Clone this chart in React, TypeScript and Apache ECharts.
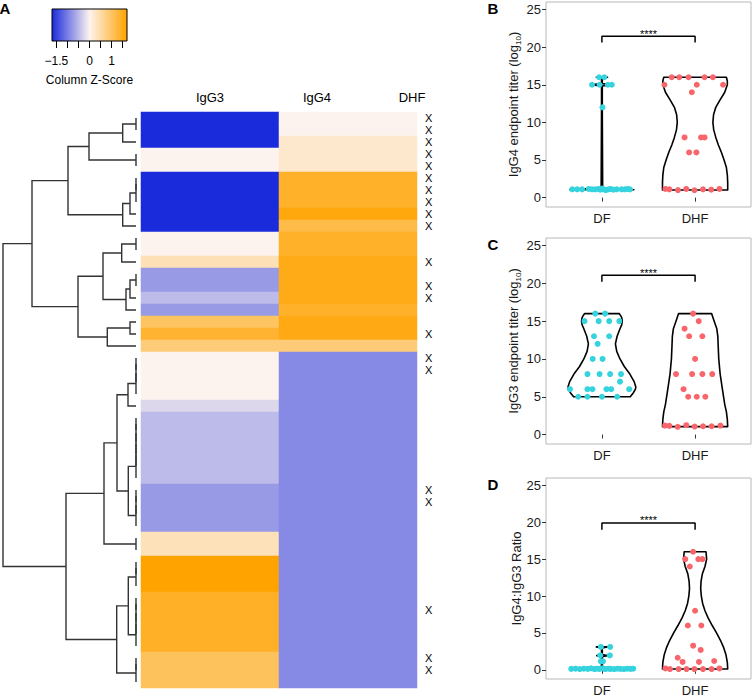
import React, { useEffect, useRef } from 'react';
import * as echarts from 'echarts';

const FONT = '"Liberation Sans", Arial, Helvetica, sans-serif';
const BLUE = '#1a2bdc';
const MID = '#fdf3ee';
const ORANGE = '#ffa300';
const DF_COLOR = '#35d3de';
const DHF_COLOR = '#f8666b';

// ---------- Panel A: heatmap ----------
const heatmapColumns = ['IgG3', 'IgG4'];
const zRange = [-1.7, 1.7];
const keyTicks = [-1.5, -1, -0.5, 0, 0.5, 1, 1.5];
const keyLabels = [-1.5, 0, 1];

// column z-scores, rows top to bottom
const igg3Z = [
  -1.7, -1.7, -1.7, 0, 0, -1.7, -1.7, -1.7, -1.7, -1.7,
  0, 0, 0.4, -0.76, -0.76, -0.48, -0.76, 1.0, 1.36, 0.84,
  0, 0, 0, 0, -0.24, -0.48, -0.48, -0.48, -0.48, -0.48,
  -0.48, -0.76, -0.76, -0.76, -0.76, 0.38, 0.38, 1.7, 1.7, 1.7,
  1.43, 1.43, 1.43, 1.43, 1.43, 1.04, 1.04, 1.04,
];
const igg4Z = [
  0, 0, 0.23, 0.23, 0.23, 1.4, 1.4, 1.4, 1.6, 1.19,
  1.4, 1.4, 1.53, 1.53, 1.53, 1.53, 1.4, 1.55, 1.55, 0.84,
  -0.89, -0.89, -0.89, -0.89, -0.89, -0.89, -0.89, -0.89, -0.89, -0.89,
  -0.89, -0.89, -0.89, -0.89, -0.89, -0.89, -0.89, -0.89, -0.89, -0.89,
  -0.89, -0.89, -0.89, -0.89, -0.89, -0.89, -0.89, -0.89,
];
// rows (0-based) marked as DHF
const dhfRows = [0, 1, 2, 3, 4, 5, 6, 7, 8, 9, 12, 14, 15, 18, 20, 21, 31, 32, 41, 45, 46];

// hclust-style merges: negative = leaf row (-1 is row 0), positive = earlier merge (1-based)
const dendroMerges = [
  [-1, -2], [1, -3], [-4, -5], [2, 3], [-6, -7], [5, -8], [6, -9], [7, -10], [4, 8],
  [-11, -12], [10, -13], [-14, -15], [12, -16], [13, -17], [11, 14], [-18, -19], [16, -20],
  [15, 17], [9, 18], [-21, -22], [20, -23], [21, -24], [22, -25], [-26, -27], [24, -28],
  [25, -29], [26, -30], [27, -31], [-32, -33], [29, -34], [30, -35], [28, 31], [23, 32],
  [-36, -37], [33, 34], [-38, -39], [36, -40], [-41, -42], [38, -43], [39, -44], [40, -45],
  [37, 41], [-46, -47], [43, -48], [42, 44], [35, 45], [19, 46],
];
const dendroHeights = [
  0, 13.3, 0, 47, 0, 0, 6, 13.3, 68,
  0, 14.3, 0, 6, 10, 33, 6, 28.7,
  58, 104, 0, 0, 0, 8, 0, 0,
  0, 0, 0, 0, 0, 0, 7.7, 19,
  0, 32, 0, 0, 0, 0, 0, 0,
  7.7, 0, 0, 19.3, 70, 133,
];

// ---------- Panels B-D ----------
const groups = ['DF', 'DHF'];
const yTicks = [0, 5, 10, 15, 20, 25];

// points: [jitter offset (category units), value]
const bDfPoints = [
  [-0.03, 16], [0.025, 16],
  [-0.106, 15], [-0.025, 15], [0.064, 15], [0.106, 15],
  [0.007, 12],
  [-0.318, 1.1], [-0.265, 1.1], [-0.212, 1.1], [-0.141, 1.15], [-0.106, 1.1], [-0.071, 1.1],
  [-0.035, 1.15], [-0.018, 1.05], [0, 1.2], [0.018, 1.1], [0.042, 1.0], [0.071, 1.1],
  [0.095, 1.15], [0.124, 1.05], [0.159, 1.1], [0.212, 1.1], [0.247, 1.1], [0.276, 1.15], [0.3, 1.1],
];
const bDhfPoints = [
  [-0.251, 16], [-0.17, 16], [-0.071, 16], [0.102, 16], [0.191, 16],
  [-0.329, 15], [0.018, 15], [0.3, 15],
  [-0.035, 14],
  [-0.113, 8], [0.064, 8], [0.102, 8],
  [-0.064, 6], [0.014, 6],
  [-0.318, 1.15], [-0.276, 1.1], [-0.184, 1.0], [-0.095, 1.15], [-0.007, 0.98], [0.085, 1.1],
  [0.173, 1.05], [0.261, 1.15],
];
const cDfPoints = [
  [-0.071, 16], [0.035, 16],
  [-0.187, 15], [-0.035, 15], [0.078, 15], [0.187, 15],
  [-0.085, 13], [0.078, 13],
  [-0.046, 12],
  [-0.099, 10], [0.007, 10],
  [-0.155, 8], [-0.025, 8], [0.088, 8], [0.205, 8],
  [0.194, 7],
  [-0.343, 6], [-0.155, 6], [-0.102, 6], [0.049, 6], [0.099, 6], [0.293, 6],
  [-0.254, 5], [-0.155, 5], [0, 5], [0.163, 5],
];
const cDhfPoints = [
  [-0.021, 16], [0.039, 15], [-0.113, 14], [-0.064, 13], [0.078, 13], [0, 10],
  [-0.205, 8], [-0.032, 8], [0.078, 8], [0.184, 8],
  [-0.124, 6],
  [-0.074, 5], [0.018, 5], [0.11, 5],
  [-0.322, 1.19], [-0.276, 1.15], [-0.187, 1.02], [-0.095, 1.24], [-0.004, 1.06], [0.085, 1.1],
  [0.177, 1.1], [0.272, 1.19],
];
const dDfPoints = [
  [-0.011, 3.1], [0.088, 3.1], [-0.018, 1.94], [0.085, 1.94], [-0.011, 1.15], [0.011, 1.15],
  [-0.329, 0.12], [-0.283, 0.15], [-0.237, 0.1], [-0.194, 0.15], [-0.152, 0.12], [-0.117, 0.2],
  [-0.081, 0.1], [-0.053, 0.15], [-0.025, 0.12], [0.007, 0.2], [0.035, 0.1], [0.071, 0.15],
  [0.095, 0.12], [0.131, 0.1], [0.166, 0.15], [0.201, 0.12], [0.237, 0.1], [0.272, 0.15],
  [0.307, 0.12], [0.336, 0.15],
];
const dDhfPoints = [
  [-0.021, 16], [-0.106, 15], [0.035, 15], [0.078, 15], [-0.057, 14], [0, 8],
  [-0.078, 6], [0.067, 6], [-0.021, 3.27], [0.06, 2.69], [-0.187, 1.63],
  [-0.134, 1.06], [0.042, 1.06], [0.205, 1.19],
  [-0.318, 0.18], [-0.269, 0.1], [-0.177, 0.1], [-0.092, 0.1], [-0.007, 0.1], [0.085, 0.1],
  [0.177, 0.1], [0.261, 0.18],
];

// violin outlines: [value, half width (category units)]
const bDfViolin = [
  [1.05, 0.343], [1.3, 0.008], [11.85, 0.004], [12, 0.015], [12.15, 0.004], [14.85, 0.004],
  [15, 0.12], [15.15, 0.004], [15.85, 0.004], [16, 0.06],
];
const bDhfViolin = [
  [1.0, 0.35], [2, 0.35], [3, 0.346], [4, 0.336], [5, 0.311], [6, 0.283], [7, 0.25], [8, 0.222],
  [9, 0.2], [10, 0.191], [11, 0.198], [12, 0.222], [13, 0.268], [14, 0.318], [15, 0.346],
  [15.5, 0.346], [16, 0.336],
];
const cDfViolin = [
  [5, 0.304], [5.5, 0.336], [6, 0.36], [6.3, 0.364], [7, 0.346], [8, 0.3], [9, 0.24], [10, 0.194],
  [11, 0.159], [12, 0.145], [13, 0.163], [14, 0.194], [14.5, 0.212], [15, 0.219], [15.5, 0.212],
  [16, 0.187],
];
const cDhfViolin = [
  [1.05, 0.35], [2, 0.346], [3, 0.336], [4, 0.318], [6, 0.293], [8, 0.269], [10, 0.254],
  [12, 0.247], [13, 0.244], [14, 0.233], [15, 0.205], [16, 0.177],
];
const dDfViolin = [
  [0.1, 0.336], [0.35, 0.006], [1.0, 0.004], [1.15, 0.02], [1.3, 0.004], [1.78, 0.004],
  [1.92, 0.055], [2.06, 0.004], [2.96, 0.004], [3.1, 0.06],
];
const dDhfViolin = [
  [0.1, 0.35], [1, 0.346], [2, 0.332], [3, 0.307], [4, 0.272], [5, 0.23], [6, 0.184], [7, 0.141],
  [8, 0.106], [9, 0.081], [10, 0.067], [11, 0.06], [12, 0.064], [13, 0.078], [14, 0.106],
  [15, 0.124], [16, 0.117],
];

// significance brackets: [low, high]
const bBracket = [20.6, 21.45];
const cBracket = [20.2, 21.07];
const dBracket = [19.0, 19.9];
const sigLabel = '****';

function dendroSegments() {
  const pos: number[] = [];
  const ht: number[] = [];
  const segs: number[][] = [];
  const node = (c: number) => (c < 0 ? { y: -c - 1, h: 0 } : { y: pos[c - 1], h: ht[c - 1] });
  dendroMerges.forEach(([a, b], i) => {
    const A = node(a);
    const B = node(b);
    const h = dendroHeights[i];
    segs.push([A.h, A.y, h, B.y, B.h]);
    pos[i] = (A.y + B.y) / 2;
    ht[i] = h;
  });
  return segs;
}

const minus = (v: number) => (v < 0 ? '\u2212' + Math.abs(v) : String(v));

function buildOption() {
  const rowIds = igg3Z.map((_, i) => 'r' + (i + 1));
  const heatData: number[][] = [];
  igg3Z.forEach((z, r) => heatData.push([0, r, z]));
  igg4Z.forEach((z, r) => heatData.push([1, r, z]));

  const grids: any[] = [
    { left: 52, top: 9, width: 75, height: 32 },
    { left: 141, top: 112, width: 276, height: 576 },
    { left: 3, top: 112, width: 133, height: 576 },
  ];
  const xAxes: any[] = [
    {
      gridIndex: 0, type: 'value', min: zRange[0], max: zRange[1], position: 'bottom',
      axisLine: { show: false }, splitLine: { show: false },
      axisTick: { show: true, customValues: keyTicks, length: 7, lineStyle: { color: '#000', width: 1 } },
      axisLabel: { customValues: keyLabels, formatter: (v: number) => minus(v), fontSize: 12, color: '#000', margin: 14, fontFamily: FONT },
      name: 'Column Z-Score', nameLocation: 'middle', nameGap: 33,
      nameTextStyle: { fontSize: 12, color: '#000', fontFamily: FONT },
    },
    {
      gridIndex: 1, type: 'category', data: heatmapColumns, position: 'top',
      axisLine: { show: false }, axisTick: { show: false },
      axisLabel: {
        fontSize: 13, color: '#000', margin: 8, fontFamily: FONT,
        formatter: (v: string) => (v === 'IgG4' ? '{shift|' + v + '}' : v),
        rich: { shift: { fontSize: 13, color: '#000', fontFamily: FONT, padding: [0, 62, 0, 0] } },
      },
    },
    { gridIndex: 2, type: 'value', min: 0, max: 133, inverse: true, show: false },
  ];
  const yAxes: any[] = [
    { gridIndex: 0, type: 'value', show: false },
    {
      gridIndex: 1, type: 'category', data: rowIds, inverse: true, position: 'right',
      axisLine: { show: false }, axisTick: { show: false },
      axisLabel: {
        interval: 0, margin: 8, fontSize: 11, color: '#000', fontFamily: FONT,
        formatter: (_v: string, i: number) => (dhfRows.includes(i) ? 'X' : ''),
      },
      name: 'DHF', nameLocation: 'start', nameGap: 8,
      nameTextStyle: { fontSize: 13, color: '#000', fontFamily: FONT, padding: [0, 10, 0, 0] },
    },
    { gridIndex: 2, type: 'value', min: -0.5, max: 47.5, inverse: true, show: false },
  ];

  const series: any[] = [
    {
      type: 'heatmap', xAxisIndex: 1, yAxisIndex: 1, data: heatData,
      itemStyle: { borderWidth: 0 }, emphasis: { disabled: true },
    },
    {
      type: 'custom', xAxisIndex: 2, yAxisIndex: 2, data: dendroSegments(), clip: false,
      renderItem: (_p: any, api: any) => {
        const pts = [
          api.coord([api.value(0), api.value(1)]),
          api.coord([api.value(2), api.value(1)]),
          api.coord([api.value(2), api.value(3)]),
          api.coord([api.value(4), api.value(3)]),
        ];
        return { type: 'polyline', shape: { points: pts }, style: { stroke: '#333', lineWidth: 1.4, fill: 'none' } };
      },
    },
  ];

  const panels = [
    { letter: 'B', top: 2, height: 205, yName: 'IgG4 endpoint titer (log{sub|10})', pts: [bDfPoints, bDhfPoints], vio: [bDfViolin, bDhfViolin], br: bBracket },
    { letter: 'C', top: 238, height: 206, yName: 'IgG3 endpoint titer (log{sub|10})', pts: [cDfPoints, cDhfPoints], vio: [cDfViolin, cDhfViolin], br: cBracket },
    { letter: 'D', top: 478, height: 206, yName: 'IgG4:IgG3 Ratio', pts: [dDfPoints, dDhfPoints], vio: [dDfViolin, dDhfViolin], br: dBracket },
  ];
  const graphics: any[] = [
    {
      type: 'rect', shape: { x: 52, y: 9, width: 75, height: 32 },
      style: {
        fill: new echarts.graphic.LinearGradient(0, 0, 1, 0, [
          { offset: 0, color: BLUE }, { offset: 0.5, color: MID }, { offset: 1, color: ORANGE },
        ]),
        stroke: '#000', lineWidth: 1,
      },
    },
    { type: 'text', x: 5, y: 8, style: { text: 'A', fontSize: 15, fontWeight: 'bold', fontFamily: FONT, fill: '#000', align: 'center', verticalAlign: 'middle' } },
  ];

  panels.forEach((p, i) => {
    const gi = 3 + i;
    grids.push({ left: 546, top: p.top, width: 205, height: p.height, show: true, borderColor: '#b8b8b8', borderWidth: 1 });
    xAxes.push({
      gridIndex: gi, type: 'value', min: 0.4, max: 2.6,
      axisLine: { show: false }, splitLine: { show: false },
      axisTick: { show: true, customValues: [1, 2], length: 4, lineStyle: { color: '#333' } },
      axisLabel: { customValues: [1, 2], formatter: (v: number) => groups[Math.round(v) - 1], fontSize: 13, color: '#1a1a1a', margin: 5, fontFamily: FONT },
    });
    yAxes.push({
      gridIndex: gi, type: 'value', min: -1.25, max: 26,
      axisLine: { show: false }, splitLine: { show: false },
      axisTick: { show: true, customValues: yTicks, length: 4, lineStyle: { color: '#333' } },
      axisLabel: { customValues: yTicks, fontSize: 13, color: '#1a1a1a', margin: 5, fontFamily: FONT },
      name: p.yName, nameLocation: 'middle', nameGap: 23,
      nameTextStyle: {
        fontSize: 13, color: '#1a1a1a', fontFamily: FONT,
        rich: { sub: { fontSize: 8, color: '#1a1a1a', fontFamily: FONT, verticalAlign: 'bottom', lineHeight: 18 } },
      },
    });
    series.push({
      type: 'custom', xAxisIndex: gi, yAxisIndex: gi, data: [[1, 0], [2, 0]], z: 2,
      renderItem: (params: any, api: any) => {
        const prof = p.vio[params.dataIndex];
        const cx = params.dataIndex + 1;
        const right = prof.map(([v, w]) => api.coord([cx + w, v]));
        const left = prof.slice().reverse().map(([v, w]) => api.coord([cx - w, v]));
        return {
          type: 'polygon', shape: { points: right.concat(left) },
          style: { fill: 'none', stroke: '#000', lineWidth: 1.6, lineJoin: 'round' },
        };
      },
    });
    p.pts.forEach((arr, g) => {
      series.push({
        type: 'scatter', xAxisIndex: gi, yAxisIndex: gi, z: 3,
        data: arr.map(([o, v]) => [g + 1 + o, v]), symbolSize: 6,
        itemStyle: { color: g === 0 ? DF_COLOR : DHF_COLOR, opacity: 1 },
      });
    });
    series.push({
      type: 'line', xAxisIndex: gi, yAxisIndex: gi, z: 4, showSymbol: false, symbol: 'none',
      data: [[1, p.br[0]], [1, p.br[1]], [2, p.br[1]], [2, p.br[0]]],
      lineStyle: { color: '#000', width: 1.5 },
    });
    series.push({
      type: 'custom', xAxisIndex: gi, yAxisIndex: gi, z: 4, data: [[1.5, p.br[1]]],
      renderItem: (_params: any, api: any) => {
        const c = api.coord([api.value(0), api.value(1)]);
        return {
          type: 'text', x: c[0], y: c[1] + 3,
          style: { text: sigLabel, fontSize: 11, fontFamily: FONT, fill: '#000', align: 'center', verticalAlign: 'bottom' },
        };
      },
    });
    graphics.push({
      type: 'text', x: 493, y: p.top + 6,
      style: { text: p.letter, fontSize: 15, fontWeight: 'bold', fontFamily: FONT, fill: '#000', align: 'center', verticalAlign: 'middle' },
    });
  });

  return {
    animation: false,
    backgroundColor: '#fff',
    textStyle: { fontFamily: FONT },
    grid: grids,
    xAxis: xAxes,
    yAxis: yAxes,
    visualMap: {
      type: 'continuous', show: false, min: zRange[0], max: zRange[1], dimension: 2, seriesIndex: 0,
      inRange: { color: [BLUE, MID, ORANGE] },
    },
    graphic: graphics,
    series,
  };
}

export default function App() {
  const ref = useRef<HTMLDivElement>(null);
  useEffect(() => {
    const chart = echarts.init(ref.current!, null, { renderer: 'svg' });
    chart.setOption(buildOption() as any);
    return () => chart.dispose();
  }, []);
  return (
    <div
      ref={ref}
      style={{ position: 'fixed', left: 0, top: 0, width: 752, height: 697, background: '#fff' }}
    />
  );
}
